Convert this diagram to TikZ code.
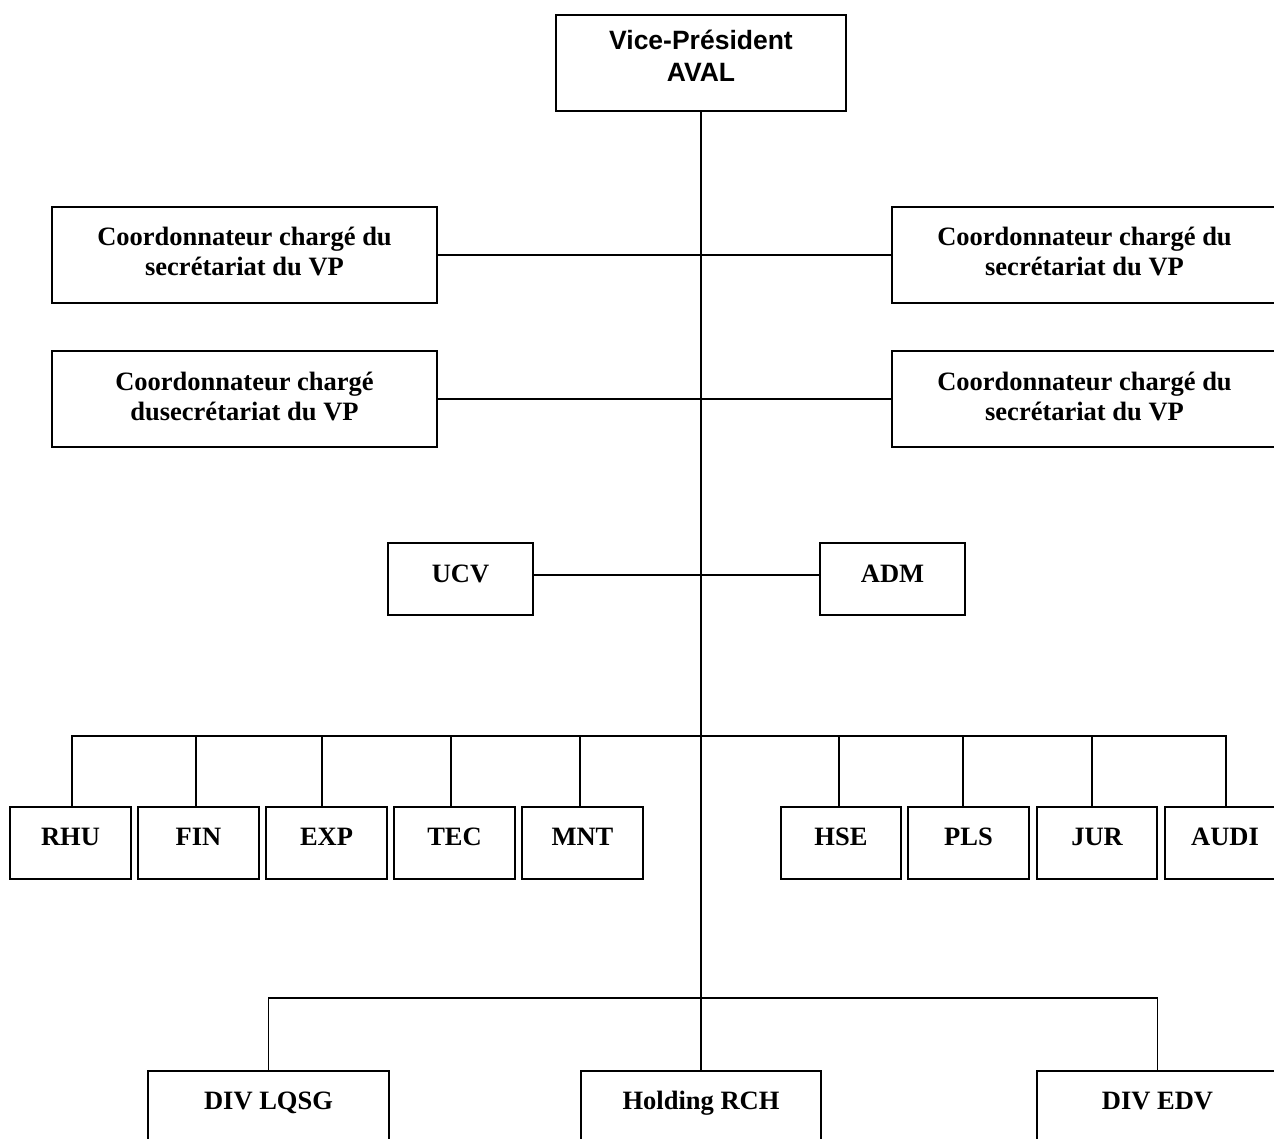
\documentclass[tikz,border=0pt]{standalone}
\usepackage{fontspec}
\setmainfont{Liberation Serif}
\newfontfamily\headfont{Liberation Sans}
% \orgbox{name}{x1}{y1}{x2}{y2}: an empty framed box between two corners
\newcommand\orgbox[5]{%
  \node[box, minimum width={#4-#2}, minimum height={#5-#3}] (#1)
    at ({(#2+#4)/2},{(#3+#5)/2}) {};}
\begin{document}
\begin{tikzpicture}[x=1pt,y=-1pt,
  box/.style={draw, line width=1.7pt, rectangle, inner sep=0pt},
  lbl/.style={font=\fontsize{26.5}{30}\selectfont\bfseries, anchor=base, inner sep=0pt},
  headlbl/.style={font=\fontsize{26.5}{30}\selectfont\headfont\bfseries, anchor=base, inner sep=0pt},
  link/.style={line width=1.7pt}]
\fill[white] (0,0) rectangle (1274,1139);
\useasboundingbox (0,0) rectangle (1274,1139);
\clip (0,0) rectangle (1274,1139);

% top of the chart
\orgbox{vp}{556}{15}{846}{111}
\node[headlbl] (vp-a) at (701,50) {Vice-Président};
\node[headlbl] (vp-b) at (701,82) {AVAL};

% coordinators
\orgbox{cl1}{52}{207}{437}{303}
\node[lbl] (cl1-a) at (244.5,246) {Coordonnateur chargé du};
\node[lbl] (cl1-b) at (244.5,276) {secrétariat du VP};
\orgbox{cl2}{52}{351}{437}{447}
\node[lbl] (cl2-a) at (244.5,390) {Coordonnateur chargé};
\node[lbl] (cl2-b) at (244.5,420) {dusecrétariat du VP};
\orgbox{cr1}{892}{207}{1277}{303}
\node[lbl] (cr1-a) at (1084.5,246) {Coordonnateur chargé du};
\node[lbl] (cr1-b) at (1084.5,276) {secrétariat du VP};
\orgbox{cr2}{892}{351}{1277}{447}
\node[lbl] (cr2-a) at (1084.5,390) {Coordonnateur chargé du};
\node[lbl] (cr2-b) at (1084.5,420) {secrétariat du VP};

% staff units
\orgbox{ucv}{388}{543}{533}{615}
\node[lbl] (ucv-t) at (460.5,582) {UCV};
\orgbox{adm}{820}{543}{965}{615}
\node[lbl] (adm-t) at (892.5,582) {ADM};

% directions: name / left / right / drop line / label
\foreach \n/\a/\b/\d/\t in {rhu/10/131/72/RHU, fin/138/259/196/FIN,
    exp/266/387/322/EXP, tec/394/515/451/TEC, mnt/522/643/580/MNT,
    hse/781/901/839/HSE, pls/908/1029/963/PLS, jur/1037/1157/1092/JUR,
    audi/1165/1285/1226/AUDI}{
  \orgbox{\n}{\a}{807}{\b}{879}
  \node[lbl] (\n-t) at ({(\a+\b)/2},845) {\t};
  \coordinate (\n-in) at (\d,807);
}

% divisions
\orgbox{lqsg}{148}{1071}{389}{1150}
\node[lbl] (lqsg-t) at (268.5,1109) {DIV LQSG};
\orgbox{holding}{581}{1071}{821}{1150}
\node[lbl] (holding-t) at (701,1109) {Holding RCH};
\orgbox{edv}{1037}{1071}{1278}{1150}
\node[lbl] (edv-t) at (1157.5,1109) {DIV EDV};

% connectors
\coordinate (busA) at (701,736);
\coordinate (busB) at (701,998);
\coordinate (staff) at (701,575);
\draw[link] (vp.south) -- (holding.north);
\draw[link] (cl1.east) -- (cr1.west);
\draw[link] (cl2.east) -- (cr2.west);
\draw[link] (ucv.east |- staff) -- (adm.west |- staff);
\draw[link] (rhu-in) |- (busA) -| (audi-in);
\foreach \n in {fin,exp,tec,mnt,hse,pls,jur}
  \draw[link] (\n-in) -- (\n-in |- busA);
\draw[link] (lqsg.north) |- (busB) -| (edv.north);
\end{tikzpicture}
\end{document}
